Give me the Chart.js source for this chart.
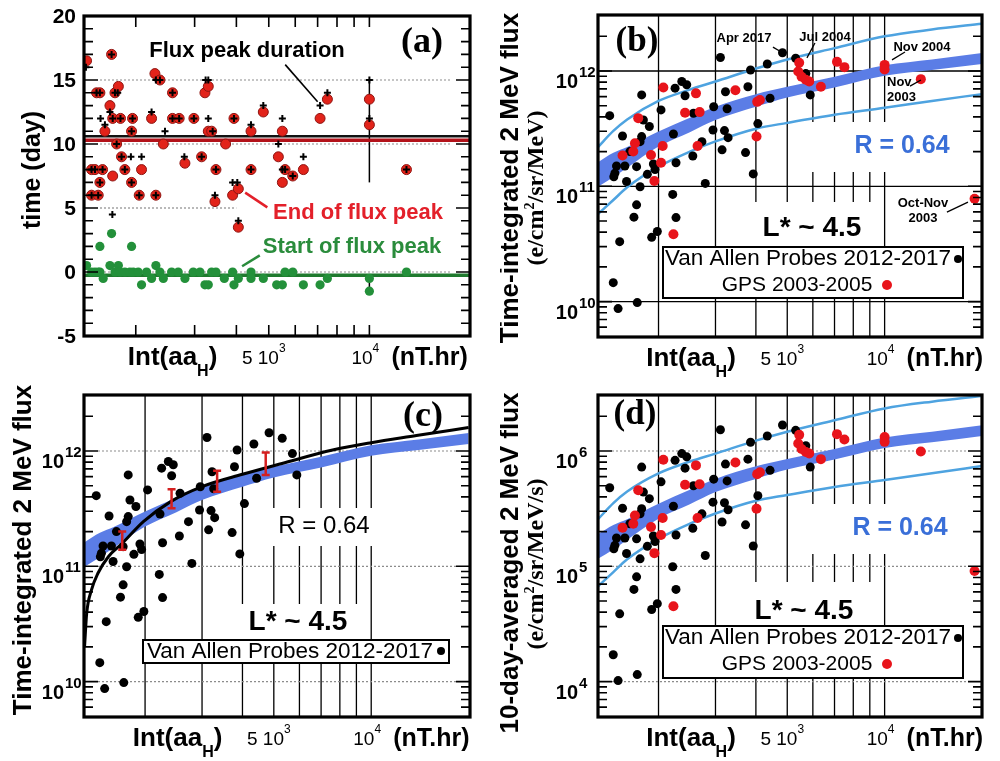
<!DOCTYPE html>
<html lang="en">
<head>
<meta charset="utf-8">
<title>Flux peak timing and 2 MeV flux vs Int(aaH)</title>
<script src="https://cdn.jsdelivr.net/npm/chart.js@4.4.1/dist/chart.umd.min.js"></script>
<style>
  html, body { margin: 0; padding: 0; background: #fff; }
  #page { position: relative; width: 1000px; height: 761px; overflow: hidden; background: #fff; }
  .panel { position: absolute; }
  .panel canvas { display: block; }
</style>
</head>
<body>
<div id="page">
  <div class="panel" style="left:0;top:0"><canvas id="chartA" width="500" height="380"></canvas></div>
  <div class="panel" style="left:500px;top:0"><canvas id="chartB" width="500" height="380"></canvas></div>
  <div class="panel" style="left:0;top:380px"><canvas id="chartC" width="500" height="381"></canvas></div>
  <div class="panel" style="left:500px;top:380px"><canvas id="chartD" width="500" height="381"></canvas></div>
</div>
<script>
// ── 1. Data ─────────────────────────────────────────────────────────────
const xGridVals = [2000, 3000, 4000, 5000, 6000, 7000, 8000, 9000, 10000];

// (a) end of flux peak (red), duration (black +), start (green), in days
const aEndX = [1425,1475,1510,1475,1544,1527,1562,1562,1591,1617,1674,1693,1706,1706,1733,1753,1774,1800,1813,1855,
  1943,1943,1956,2048,2081,2230,2282,2297,2362,2418,2576,2576,2697,2806,2985,3148,3221,3296,3296,3373,
  3475,3451,3714,3934,3897,4054,4054,4424,4424,4815,5341,5490,5490,5594,5898,6346,7120,7488,10000,10000,12910];
const aEndDay = [16.5,8,8,6,6,14,14,7,8,11,13,17,12,7.5,14,10,14.5,12,9,8,
  7,11,12,6,8,12,15.5,6,15,10,14,12,12,8.5,12,9,14,14.5,11,11,
  8,5.5,10,12,6,6.5,3.5,11,8,12.5,9,7,11,8,7.5,8,12,13.5,13.5,11.5,8];
const aDurX = [1419,1569,1617,1674,1766,1934,2081,1702,2230,2297,2446,2795,3236,3296,3296,3397,3451,3897,4025,4054,
  4424,4815,5341,5490,5594,5490,6346,7120,7488,10000,10000,
  1475,1510,1475,1544,1527,1562,1562,1591,1693,1706,1733,1753,1800,1813,1855,1943,1943,1956,2048,2297,
  2362,2576,2576,2697,2985,3148,3475,3934,4424,5898,12910];
const aDurDay = [16,12,11.5,12.5,14,9,9,4.5,12.5,15,11,9,15,15,12,11,6,7,7,4,
  11.5,13,10,8,8,12,9,13,14,15,12,
  8,8,6,6,14,14,7,8,17,12,14,10,12,9,8,7,11,12,6,6,
  15,14,12,12,12,9,8,12,8,7.5,8];
const aStartX = [1425,1475,1510,1544,1562,1562,1598,1674,1693,1733,1774,1794,1855,1920,1943,1965,2034,2081,2155,2230,
  2297,2362,2418,2560,2679,2806,2972,3112,3221,3296,3373,3475,3681,3897,3934,4054,4424,4424,4815,5280,
  5490,5594,5898,6346,7120,7488,10000,10000,12910];
const aStartDay = [0.5,0,0,0,0,2,-0.5,0.5,3,0,0.5,0,0,0,2,0,0,-1,0,-0.5,
  0.5,0,-0.5,0,0,-0.5,0,0,-1,-1,0,0,-0.5,0,-1,-0.5,0,-0.5,-0.5,-1,
  -1,0,0,-1,-1,-0.5,-0.5,-1.5,0];
const aMeanDur = 10.6, aMeanEnd = 10.3, aMeanStart = -0.25;
const aBarX = 10000, aBarHi = [15, -0.5], aBarLo = [7, -1.5];
const aYTicks = [-5, 0, 5, 10, 15, 20];
const aGrid = [15, 10, 0], aGridShort = 5, aGridShortEnd = 4000;

// Van Allen Probes 2012-2017 events: Int(aaH), time-integrated flux (b,c), 10-day average (d)
const vapX = [1413,1548,1774,1796,1874,1774,1754,1631,1483,1574,1466,1455,1593,1711,1754,1847,1928,1951,1711,1679,
  1517,1449,1500,1719,1905,1983,2213,2265,2224,2265,2036,2250,2360,2445,2416,2565,2553,2724,2790,2962,
  2947,3144,3198,3282,3259,3221,3107,3716,3779,3850,3925,4056,4338,4424,4834,5309,5707,5890];
const vapFlux = [4.1e11,2.73e11,6.2e11,3.76e11,3.3e11,2.7e11,2.44e11,2.0e11,1.5e11,1.5e11,1.3e11,1.21e11,1.1e11,1.48e11,9.9e10,1.27e11,1.56e11,1.4e11,6.9e10,5.4e10,
  3.31e10,1.46e10,8.7e9,9.8e9,3.61e10,4.05e10,8.5e10,5.35e10,2.84e11,1.6e11,4.6e11,7.1e11,8.1e11,7.6e11,6.1e11,4.3e11,1.83e11,2.44e11,1.06e11,4.9e11,
  3.08e11,2.07e11,3.04e11,2.64e11,4.7e11,6.6e11,1.31e12,1.96e11,7.3e11,1.02e12,1.28e11,3.5e11,1.15e12,5.8e11,1.44e12,1.29e12,9.5e11,6.2e11];
const vapAvg = [4.8e5,3.19e5,7.25e5,4.4e5,3.86e5,3.16e5,2.85e5,2.34e5,1.76e5,1.76e5,1.52e5,1.42e5,1.29e5,1.73e5,1.16e5,1.49e5,1.83e5,1.64e5,8.1e4,6.3e4,
  3.87e4,1.71e4,1.02e4,1.15e4,4.22e4,4.74e4,9.9e4,6.3e4,3.32e5,1.87e5,5.4e5,8.3e5,9.5e5,8.9e5,7.1e5,5.0e5,2.14e5,2.85e5,1.24e5,5.7e5,
  3.6e5,2.42e5,3.56e5,3.09e5,5.5e5,7.7e5,1.53e6,2.29e5,8.5e5,1.19e6,1.5e5,4.1e5,1.35e6,6.8e5,1.68e6,1.51e6,1.11e6,7.25e5];

// GPS 2003-2005 events
const gpsX = [1548,1671,1691,1731,1896,1942,2036,2060,2070,2224,2416,2611,2680,2641,3457,4018,4037,4117,5444,5406,
  5537,5707,5848,6353,7124,7511,10000,10000,12940,18970];
const gpsFlux = [1.85e11,2.0e11,2.36e11,3.9e11,1.87e11,1.11e11,1.6e11,2.24e11,7.2e11,3.84e10,4.35e11,6.4e11,4.4e11,2.24e11,6.8e11,2.7e11,5.4e11,5.6e11,1.18e12,9.9e11,
  8.9e11,8.4e11,8.1e11,7.3e11,1.2e12,1.08e12,1.13e12,1.03e12,8.5e11,7.8e10];
const gpsAvg = [2.16e5,2.34e5,2.76e5,4.56e5,2.19e5,1.3e5,1.87e5,2.62e5,8.4e5,4.5e4,5.1e5,7.5e5,5.15e5,2.62e5,7.96e5,3.16e5,6.3e5,6.55e5,1.38e6,1.16e6,
  1.04e6,9.8e5,9.5e5,8.5e5,1.4e6,1.26e6,1.32e6,1.2e6,9.9e5,9.1e4];

// fit band (dark blue) and envelope (light blue)
const fitX = [1300, 1450, 1600, 2000, 2500, 3000, 4000, 5000, 7000, 10000, 14000, 20000];
const bandHiFlux = [1.62e11,1.95e11,2.19e11,2.98e11,3.94e11,4.9e11,6.3e11,7.3e11,8.9e11,1.12e12,1.26e12,1.43e12];
const bandLoFlux = [9.9e10,1.2e11,1.45e11,2.21e11,2.95e11,3.76e11,4.9e11,5.9e11,7.2e11,9.1e11,1.02e12,1.15e12];
const envHiFlux = [2.19e11,3.02e11,3.8e11,5.5e11,6.9e11,8.1e11,1.05e12,1.26e12,1.58e12,2.0e12,2.29e12,2.57e12];
const envLoFlux = [5.75e10,7.6e10,9.8e10,1.48e11,2.0e11,2.45e11,3.16e11,3.55e11,4.17e11,4.79e11,5.5e11,6.3e11];
const bandHiAvg = [1.9e5,2.28e5,2.56e5,3.49e5,4.61e5,5.73e5,7.37e5,8.54e5,1.04e6,1.31e6,1.47e6,1.67e6];
const bandLoAvg = [1.16e5,1.4e5,1.7e5,2.59e5,3.45e5,4.4e5,5.73e5,6.9e5,8.42e5,1.06e6,1.19e6,1.35e6];
const envHiAvg = [2.56e5,3.53e5,4.45e5,6.4e5,8.1e5,9.5e5,1.23e6,1.47e6,1.85e6,2.34e6,2.68e6,3.0e6];
const envLoAvg = [6.7e4,8.9e4,1.15e5,1.73e5,2.34e5,2.87e5,3.7e5,4.15e5,4.88e5,5.6e5,6.4e5,7.4e5];

// (c) black fit curve and binned means with error bars
const cFitX = [1300,1320,1365,1430,1540,1700,1980,2400,3000,4000,5300,7600,10000,13800,20000];
const cFitY = [2.0e10,3.9e10,6.2e10,8.7e10,1.21e11,1.58e11,2.45e11,3.64e11,4.91e11,6.28e11,7.8e11,1.02e12,1.18e12,1.36e12,1.6e12];
const cErrX = [1700, 2415, 3340, 4720];
const cErrLo = [1.39e11, 3.18e11, 4.44e11, 6.2e11];
const cErrHi = [2.0e11, 4.66e11, 6.75e11, 9.7e11];

const fluxExps = [10, 11, 12];
const avgExps = [4, 5, 6];

// ── 2. Helpers ──────────────────────────────────────────────────────────
const SANS = '"Liberation Sans", Arial, Helvetica, sans-serif';
const SERIF = '"Liberation Serif", "Times New Roman", Times, serif';
const RED = '#e8141b', BAND = '#5b7de6', ENV = '#4ea3e0', RTXT = '#3a6fd8';

const pts = (xs, ys) => xs.map((x, i) => ({ x: x, y: ys[i] }));

function scatterSet(xs, ys, color, r, extra) {
  return Object.assign({
    data: pts(xs, ys), showLine: false,
    pointRadius: r, pointBackgroundColor: color, pointBorderColor: color, pointBorderWidth: 0,
    order: 1
  }, extra || {});
}
function curveSet(data, color, width, extra) {
  return Object.assign({
    data: data, showLine: true, fill: false,
    borderColor: color, borderWidth: width, pointRadius: 0,
    cubicInterpolationMode: 'monotone', order: 5
  }, extra || {});
}
function baseOptions(pad, xMin, xMax, yType, yMin, yMax) {
  return {
    responsive: false, animation: false, devicePixelRatio: 1, events: [],
    layout: { padding: pad },
    plugins: { legend: { display: false }, tooltip: { enabled: false } },
    scales: {
      x: { type: 'logarithmic', min: xMin, max: xMax, display: false },
      y: { type: yType, min: yMin, max: yMax, display: false }
    }
  };
}
function logMinors(lo, hi) {
  const out = [];
  for (let e = Math.floor(Math.log10(lo)); e <= Math.ceil(Math.log10(hi)); e++) {
    for (let m = 2; m <= 9; m++) { const v = m * Math.pow(10, e); if (v > lo && v < hi) out.push(v); }
  }
  return out;
}
function vGrid(chart, vals, color, width, dash) {
  const { ctx, chartArea: a } = chart;
  ctx.save(); ctx.strokeStyle = color; ctx.lineWidth = width; ctx.setLineDash(dash || []);
  ctx.beginPath();
  vals.forEach(v => { const x = chart.scales.x.getPixelForValue(v); ctx.moveTo(x, a.top); ctx.lineTo(x, a.bottom); });
  ctx.stroke(); ctx.restore();
}
function hGrid(chart, vals, color, width, dash, x0, x1) {
  const ctx = chart.ctx;
  ctx.save(); ctx.strokeStyle = color; ctx.lineWidth = width; ctx.setLineDash(dash || []);
  ctx.beginPath();
  vals.forEach(v => { const y = chart.scales.y.getPixelForValue(v); ctx.moveTo(x0, y); ctx.lineTo(x1, y); });
  ctx.stroke(); ctx.restore();
}
function whiteBox(ctx, x, y, w, h) { ctx.save(); ctx.fillStyle = '#fff'; ctx.fillRect(x, y, w, h); ctx.restore(); }

function frameTicks(chart, yMajor, yMinor, xTicks) {
  const { ctx, chartArea: a } = chart;
  const sx = chart.scales.x, sy = chart.scales.y;
  ctx.save();
  ctx.strokeStyle = '#000'; ctx.lineWidth = 1.6; ctx.setLineDash([]);
  ctx.beginPath();
  const yt = (v, len) => {
    const p = sy.getPixelForValue(v);
    if (p < a.top + 1 || p > a.bottom - 1) return;
    ctx.moveTo(a.left, p); ctx.lineTo(a.left + len, p);
    ctx.moveTo(a.right, p); ctx.lineTo(a.right - len, p);
  };
  yMinor.forEach(v => yt(v, 9));
  yMajor.forEach(v => yt(v, 14));
  xTicks.forEach(v => {
    const p = sx.getPixelForValue(v);
    ctx.moveTo(p, a.top); ctx.lineTo(p, a.top + 11);
    ctx.moveTo(p, a.bottom); ctx.lineTo(p, a.bottom - 11);
  });
  ctx.stroke();
  ctx.lineWidth = 3.2;
  ctx.strokeRect(a.left, a.top, a.right - a.left, a.bottom - a.top);
  ctx.restore();
}
function runs(ctx, parts, x, y, align) {
  let total = 0;
  parts.forEach(p => { ctx.font = p[1]; total += ctx.measureText(p[0]).width; });
  let cx = align === 'center' ? x - total / 2 : (align === 'right' ? x - total : x);
  ctx.textAlign = 'left';
  parts.forEach(p => { ctx.font = p[1]; ctx.fillText(p[0], cx, y + (p[2] || 0)); cx += ctx.measureText(p[0]).width; });
}
function label(ctx, s, x, y, font, color, align) {
  ctx.save();
  ctx.font = font; ctx.fillStyle = color || '#000';
  ctx.textAlign = align || 'center'; ctx.textBaseline = 'middle';
  ctx.fillText(s, x, y);
  ctx.restore();
}
function vTitle(ctx, parts, cx, cy) {
  ctx.save();
  ctx.translate(cx, cy); ctx.rotate(-Math.PI / 2);
  ctx.fillStyle = '#000'; ctx.textBaseline = 'middle';
  runs(ctx, parts, 0, 0, 'center');
  ctx.restore();
}
function xAxisText(chart) {
  const { ctx, chartArea: a } = chart;
  const sx = chart.scales.x;
  const x5 = sx.getPixelForValue(5000), x10 = sx.getPixelForValue(10000);
  const base = a.bottom + 29;
  ctx.save();
  ctx.fillStyle = '#000'; ctx.textBaseline = 'alphabetic';
  const B = 'bold 26px ' + SANS;
  runs(ctx, [['Int(aa', B, 0], ['H', 'bold 16px ' + SANS, 11], [')', B, 0]], x5 - 141, base, 'left');
  runs(ctx, [['5 10', '19px ' + SANS, -1], ['3', '12px ' + SANS, -13]], x5 - 5, base, 'center');
  runs(ctx, [['10', '19px ' + SANS, -1], ['4', '12px ' + SANS, -13]], x10 - 4, base, 'center');
  runs(ctx, [['(nT.hr)', 'bold 25px ' + SANS, 0]], x10 + 22, base, 'left');
  ctx.restore();
}
function linYLabels(chart, vals) {
  const { ctx, chartArea: a } = chart;
  ctx.save();
  ctx.fillStyle = '#000'; ctx.font = 'bold 21px ' + SANS;
  ctx.textAlign = 'right'; ctx.textBaseline = 'middle';
  vals.forEach(v => ctx.fillText(String(v), a.left - 8, chart.scales.y.getPixelForValue(v) + 1));
  ctx.restore();
}
function logYLabels(chart, exps) {
  const { ctx, chartArea: a } = chart;
  ctx.save();
  ctx.fillStyle = '#000'; ctx.textBaseline = 'alphabetic';
  exps.forEach(e => {
    const y = chart.scales.y.getPixelForValue(Math.pow(10, e));
    ctx.font = 'bold 20px ' + SANS; ctx.textAlign = 'right';
    ctx.fillText('10', a.left - 20, y + 17);
    ctx.font = 'bold 15px ' + SANS; ctx.textAlign = 'left';
    ctx.fillText(String(e), a.left - 19, y + 6);
  });
  ctx.restore();
}
function leader(chart, x0, y0, x1, y1, color, width) {
  const ctx = chart.ctx, sx = chart.scales.x, sy = chart.scales.y;
  ctx.save();
  ctx.strokeStyle = color; ctx.lineWidth = width;
  ctx.beginPath();
  ctx.moveTo(sx.getPixelForValue(x0), sy.getPixelForValue(y0));
  ctx.lineTo(sx.getPixelForValue(x1), sy.getPixelForValue(y1));
  ctx.stroke();
  ctx.restore();
}
function legendBox(ctx, x, y, w, h) {
  ctx.save();
  ctx.fillStyle = '#fff'; ctx.fillRect(x, y, w, h);
  ctx.strokeStyle = '#000'; ctx.lineWidth = 2; ctx.strokeRect(x, y, w, h);
  ctx.restore();
}
function dot(ctx, x, y, r, color) {
  ctx.save(); ctx.fillStyle = color; ctx.beginPath(); ctx.arc(x, y, r, 0, Math.PI * 2); ctx.fill(); ctx.restore();
}
function errorBars(chart, xs, lo, hi, color) {
  const ctx = chart.ctx, sx = chart.scales.x, sy = chart.scales.y;
  ctx.save();
  ctx.strokeStyle = color; ctx.lineWidth = 2.5;
  ctx.beginPath();
  xs.forEach((x, i) => {
    const px = sx.getPixelForValue(x), y0 = sy.getPixelForValue(lo[i]), y1 = sy.getPixelForValue(hi[i]);
    ctx.moveTo(px, y0); ctx.lineTo(px, y1);
    ctx.moveTo(px - 4, y0); ctx.lineTo(px + 4, y0);
    ctx.moveTo(px - 4, y1); ctx.lineTo(px + 4, y1);
  });
  ctx.stroke();
  ctx.restore();
}
function fitDatasets(hi, lo, envHi, envLo) {
  return [
    curveSet(pts(fitX, envHi), ENV, 2.5, { order: 4 }),
    curveSet(pts(fitX, envLo), ENV, 2.5, { order: 4 }),
    curveSet(pts(fitX, hi), BAND, 0, { order: 6, fill: '+1', backgroundColor: BAND }),
    curveSet(pts(fitX, lo), BAND, 0, { order: 6 })
  ];
}

const FLUX_MIN = 4.93e9, FLUX_MAX = 3.06e12;
const AVG_MIN = 4.93e3, AVG_MAX = 3.06e6;
const fluxMinors = logMinors(FLUX_MIN, FLUX_MAX);
const avgMinors = logMinors(AVG_MIN, AVG_MAX);
const LEG1 = '22.5px ' + SANS, LEG2 = '21px ' + SANS;

// ── 3. Panel (a) ────────────────────────────────────────────────────────
const A_XMIN = 1400, A_XMAX = 20000;
const aMinor = [];
for (let d = -5; d <= 20; d++) aMinor.push(d);

new Chart(document.getElementById('chartA'), {
  type: 'scatter',
  data: { datasets: [
    scatterSet(aDurX, aDurDay, '#000', 3.5, { pointStyle: 'cross', pointBorderWidth: 2, order: 1 }),
    scatterSet(aEndX, aEndDay, '#e2231a', 5, { pointBorderColor: '#8e1512', pointBorderWidth: 1, order: 2 }),
    scatterSet(aStartX, aStartDay, '#23903a', 4.6, { order: 3 }),
    curveSet(pts([A_XMIN, A_XMAX], [aMeanDur, aMeanDur]), '#111', 2.5, { order: 6 }),
    curveSet(pts([A_XMIN, A_XMAX], [aMeanEnd, aMeanEnd]), '#b3121a', 3.5, { order: 6 }),
    curveSet(pts([A_XMIN, A_XMAX], [aMeanStart, aMeanStart]), '#1f7a2e', 3.5, { order: 6 }),
    curveSet(pts([aBarX, aBarX], [aBarHi[0], aBarLo[0]]), '#000', 1.5, { order: 7 }),
    curveSet(pts([aBarX, aBarX], [aBarHi[1], aBarLo[1]]), '#000', 1.5, { order: 7 })
  ]},
  options: baseOptions({ left: 84, right: 30, top: 16, bottom: 44 }, A_XMIN, A_XMAX, 'linear', -5, 20),
  plugins: [{
    id: 'decoA',
    beforeDatasetsDraw(chart) {
      const a = chart.chartArea;
      hGrid(chart, aGrid, '#8c8c8c', 1.2, [2, 2], a.left + 16, a.right - 20);
      hGrid(chart, [aGridShort], '#8c8c8c', 1.2, [2, 2], a.left + 16, chart.scales.x.getPixelForValue(aGridShortEnd));
    },
    afterDraw(chart) {
      const ctx = chart.ctx;
      frameTicks(chart, aYTicks, aMinor, xGridVals);
      linYLabels(chart, aYTicks);
      xAxisText(chart);
      vTitle(ctx, [['time (day)', 'bold 25px ' + SANS, 0]], 33, 170);
      label(ctx, 'Flux peak duration', 247, 51, 'bold 22px ' + SANS, '#000');
      leader(chart, 5600, 16.2, 7000, 13.3, '#000', 1.6);
      label(ctx, '(a)', 422, 43, 'bold 36px ' + SERIF, '#000');
      label(ctx, 'End of flux peak', 358, 213, 'bold 22px ' + SANS, '#e3202a');
      leader(chart, 4250, 6.2, 4950, 5.05, '#e3202a', 2.5);
      label(ctx, 'Start of flux peak', 352, 247, 'bold 22px ' + SANS, '#2a8c3c');
      leader(chart, 4160, 0.45, 4700, 1.3, '#2a8c3c', 2.5);
    }
  }]
});

// ── 4. Panel (b) ────────────────────────────────────────────────────────
new Chart(document.getElementById('chartB'), {
  type: 'scatter',
  data: { datasets: [
    scatterSet(gpsX, gpsFlux, RED, 5, { order: 1 }),
    scatterSet(vapX, vapFlux, '#000', 4.5, { order: 2 })
  ].concat(fitDatasets(bandHiFlux, bandLoFlux, envHiFlux, envLoFlux)) },
  options: baseOptions({ left: 98, right: 18, top: 15, bottom: 43 }, 1300, 20000, 'logarithmic', FLUX_MIN, FLUX_MAX),
  plugins: [{
    id: 'decoB',
    beforeDatasetsDraw(chart) {
      const { ctx, chartArea: a } = chart;
      vGrid(chart, xGridVals, '#000', 1.3);
      hGrid(chart, fluxExps.map(e => Math.pow(10, e)), '#000', 1.3, [], a.left, a.right);
      whiteBox(ctx, 305, 122, 150, 50);
      whiteBox(ctx, 240, 202, 132, 46);
    },
    afterDraw(chart) {
      const ctx = chart.ctx;
      frameTicks(chart, fluxExps.map(e => Math.pow(10, e)), fluxMinors, []);
      logYLabels(chart, fluxExps);
      xAxisText(chart);
      vTitle(ctx, [['Time-integrated 2 MeV flux', 'bold 26px ' + SANS, 0]], 11, 178);
      const S = 'bold 24px ' + SERIF, s = 'bold 14px ' + SERIF;
      vTitle(ctx, [['(e/cm', S, 0], ['2', s, -7], ['/sr/MeV)', S, 0]], 37, 188);
      label(ctx, '(b)', 137, 42, 'bold 35px ' + SERIF, '#000');
      const F = 'bold 13px ' + SANS;
      label(ctx, 'Apr 2017', 244, 38, F); leader(chart, 4516, 1.61e12, 4780, 1.47e12, '#000', 1.3);
      label(ctx, 'Jul 2004', 325, 37, F); leader(chart, 6089, 1.75e12, 5753, 1.3e12, '#000', 1.3);
      label(ctx, 'Nov 2004', 422, 47, F); leader(chart, 11560, 1.46e12, 10540, 1.25e12, '#000', 1.3);
      label(ctx, 'Nov', 387, 82, F, '#000', 'left'); label(ctx, '2003', 387, 97, F, '#000', 'left');
      leader(chart, 11980, 7.4e11, 12950, 8.36e11, '#000', 1.3);
      label(ctx, 'Oct-Nov', 423, 203, F); label(ctx, '2003', 423, 218, F);
      leader(chart, 15580, 5.98e10, 18100, 7.3e10, '#000', 1.3);
      label(ctx, 'R = 0.64', 402, 146, 'bold 25px ' + SANS, RTXT);
      label(ctx, 'L* ~ 4.5', 312, 228, 'bold 28px ' + SANS, '#000');
      legendBox(ctx, 163, 247, 300, 51);
      label(ctx, 'Van Allen Probes 2012-2017', 165, 259, LEG1, '#000', 'left');
      dot(ctx, 458, 259, 4, '#000');
      label(ctx, 'GPS 2003-2005', 297, 285, LEG2, '#000');
      dot(ctx, 387, 285, 5, RED);
    }
  }]
});

// ── 5. Panel (c) ────────────────────────────────────────────────────────
new Chart(document.getElementById('chartC'), {
  type: 'scatter',
  data: { datasets: [
    scatterSet(vapX, vapFlux, '#000', 4.5, { order: 2 }),
    curveSet(pts(cFitX, cFitY), '#000', 3, { order: 3 }),
    curveSet(pts(fitX, bandHiFlux), BAND, 0, { order: 6, fill: '+1', backgroundColor: BAND }),
    curveSet(pts(fitX, bandLoFlux), BAND, 0, { order: 6 })
  ]},
  options: baseOptions({ left: 84, right: 30, top: 15, bottom: 44 }, 1295, 20200, 'logarithmic', FLUX_MIN, FLUX_MAX),
  plugins: [{
    id: 'decoC',
    beforeDatasetsDraw(chart) {
      const { ctx, chartArea: a } = chart;
      vGrid(chart, xGridVals, '#000', 1.3);
      hGrid(chart, fluxExps.map(e => Math.pow(10, e)), '#8c8c8c', 1.2, [2, 2], a.left + 14, a.right - 14);
      whiteBox(ctx, 262, 128, 116, 38);
      whiteBox(ctx, 232, 224, 134, 36);
    },
    afterDraw(chart) {
      const ctx = chart.ctx;
      errorBars(chart, cErrX, cErrLo, cErrHi, '#d42020');
      frameTicks(chart, fluxExps.map(e => Math.pow(10, e)), fluxMinors, []);
      logYLabels(chart, fluxExps);
      xAxisText(chart);
      vTitle(ctx, [['Time-integrated 2 MeV flux', 'bold 26px ' + SANS, 0]], 24, 170);
      label(ctx, '(c)', 423, 37, 'bold 36px ' + SERIF, '#000');
      label(ctx, 'R = 0.64', 324, 146, '24px ' + SANS, '#000');
      label(ctx, 'L* ~ 4.5', 298, 242, 'bold 28px ' + SANS, '#000');
      legendBox(ctx, 143, 260, 306, 23);
      label(ctx, 'Van Allen Probes 2012-2017', 147, 272, LEG1, '#000', 'left');
      dot(ctx, 441, 271, 4, '#000');
    }
  }]
});

// ── 6. Panel (d) ────────────────────────────────────────────────────────
new Chart(document.getElementById('chartD'), {
  type: 'scatter',
  data: { datasets: [
    scatterSet(gpsX, gpsAvg, RED, 5, { order: 1 }),
    scatterSet(vapX, vapAvg, '#000', 4.5, { order: 2 })
  ].concat(fitDatasets(bandHiAvg, bandLoAvg, envHiAvg, envLoAvg)) },
  options: baseOptions({ left: 98, right: 18, top: 15, bottom: 44 }, 1300, 20000, 'logarithmic', AVG_MIN, AVG_MAX),
  plugins: [{
    id: 'decoD',
    beforeDatasetsDraw(chart) {
      const { ctx, chartArea: a } = chart;
      vGrid(chart, xGridVals, '#000', 1.3);
      hGrid(chart, avgExps.map(e => Math.pow(10, e)), '#8c8c8c', 1.2, [2, 2], a.left + 14, a.right - 14);
      whiteBox(ctx, 305, 124, 150, 50);
      whiteBox(ctx, 240, 202, 132, 45);
    },
    afterDraw(chart) {
      const ctx = chart.ctx;
      frameTicks(chart, avgExps.map(e => Math.pow(10, e)), avgMinors, []);
      logYLabels(chart, avgExps);
      xAxisText(chart);
      vTitle(ctx, [['10-day-averaged 2 MeV flux', 'bold 26px ' + SANS, 0]], 11, 183);
      const S = 'bold 24px ' + SERIF, s = 'bold 14px ' + SERIF;
      vTitle(ctx, [['(e/cm', S, 0], ['2', s, -7], ['/sr/MeV/s)', S, 0]], 37, 184);
      label(ctx, '(d)', 135, 35, 'bold 35px ' + SERIF, '#000');
      label(ctx, 'R = 0.64', 400, 148, 'bold 25px ' + SANS, RTXT);
      label(ctx, 'L* ~ 4.5', 304, 231, 'bold 28px ' + SANS, '#000');
      legendBox(ctx, 163, 246, 300, 52);
      label(ctx, 'Van Allen Probes 2012-2017', 165, 258, LEG1, '#000', 'left');
      dot(ctx, 458, 258, 4, '#000');
      label(ctx, 'GPS 2003-2005', 297, 284, LEG2, '#000');
      dot(ctx, 387, 284, 5, RED);
    }
  }]
});
</script>
</body>
</html>
